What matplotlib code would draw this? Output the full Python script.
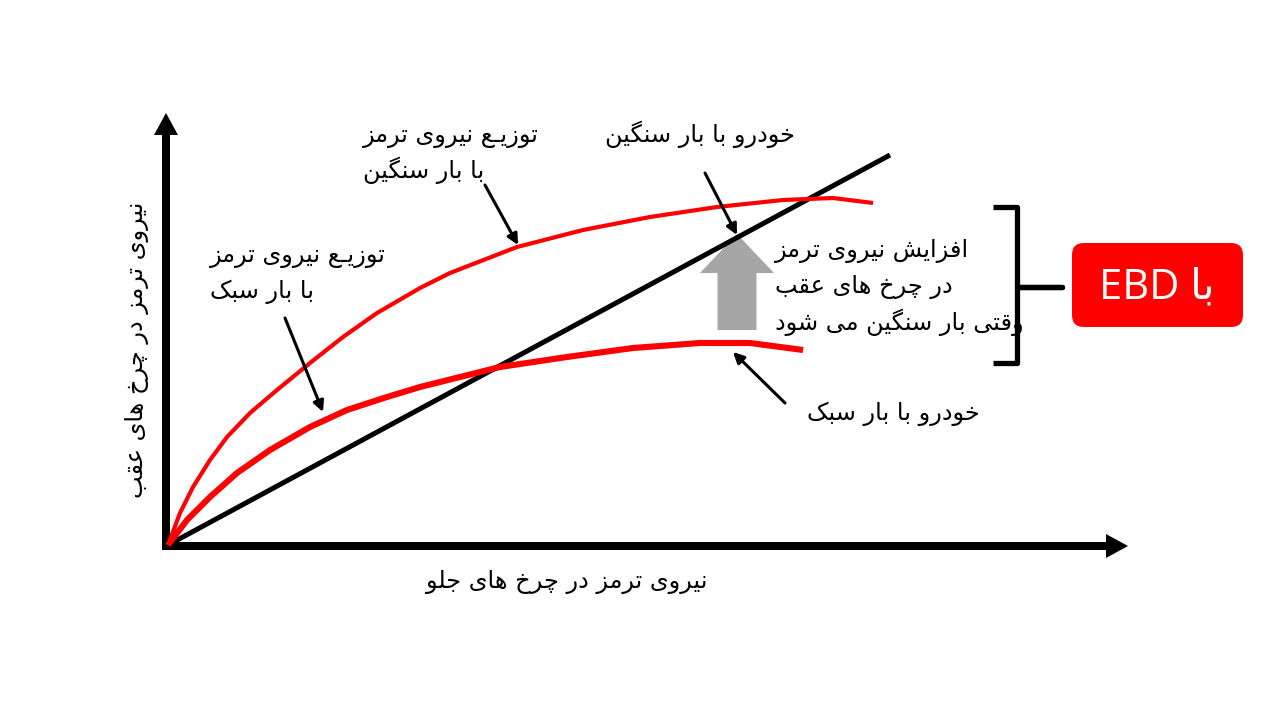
import matplotlib
matplotlib.use("Agg")
import matplotlib.pyplot as plt
from matplotlib.patches import FancyArrow, FancyBboxPatch
from matplotlib.path import Path
from matplotlib.patches import PathPatch

# ---------------- data (front brake force vs rear brake force, schematic units) -------------
ideal_heavy_front = [0, 12, 25, 42, 59, 82, 109, 142, 175, 209, 252, 282, 349, 415, 482, 549, 615, 665, 705]
ideal_heavy_rear = [0, 32, 58, 85, 108, 132, 155, 182, 208, 232, 257, 272, 298, 315, 328, 338, 345, 347, 342]

ideal_light_front = [0, 19, 42, 69, 102, 142, 179, 219, 252, 332, 399, 465, 532, 582, 635]
ideal_light_rear = [0, 25, 48, 72, 95, 118, 135, 148, 158, 178, 188, 197, 202, 202, 195]

actual_front = [0, 722]
actual_rear = [0, 390]

# ---------------- text ----------------
lbl_heavy_dist = ["توزیـع نیروی ترمز", "با بار سنگین"]
lbl_light_dist = ["توزیـع نیروی ترمز", "با بار سبک"]
lbl_heavy_car = "خودرو با بار سنگین"
lbl_light_car = "خودرو با بار سبک"
lbl_increase = ["افزایش نیروی ترمز", "در چرخ های عقب", "وقتی بار سنگین می شود"]
lbl_ebd_word = "با"
lbl_ebd_latin = "EBD"
x_label = "نیروی ترمز در چرخ های جلو"
y_label = "نیروی ترمز در چرخ های عقب"

# ---------------- minimal Persian shaping (presentation forms + RTL) ----------------
FORMS = {
    'ا': ('\uFE8D', '\uFE8E', None, None),
    'ب': ('\uFE8F', '\uFE90', '\uFE91', '\uFE92'),
    'ت': ('\uFE95', '\uFE96', '\uFE97', '\uFE98'),
    'ج': ('\uFE9D', '\uFE9E', '\uFE9F', '\uFEA0'),
    'خ': ('\uFEA5', '\uFEA6', '\uFEA7', '\uFEA8'),
    'د': ('\uFEA9', '\uFEAA', None, None),
    'ر': ('\uFEAD', '\uFEAE', None, None),
    'ز': ('\uFEAF', '\uFEB0', None, None),
    'س': ('\uFEB1', '\uFEB2', '\uFEB3', '\uFEB4'),
    'ش': ('\uFEB5', '\uFEB6', '\uFEB7', '\uFEB8'),
    'ع': ('\uFEC9', '\uFECA', '\uFECB', '\uFECC'),
    'ف': ('\uFED1', '\uFED2', '\uFED3', '\uFED4'),
    'ق': ('\uFED5', '\uFED6', '\uFED7', '\uFED8'),
    'ل': ('\uFEDD', '\uFEDE', '\uFEDF', '\uFEE0'),
    'م': ('\uFEE1', '\uFEE2', '\uFEE3', '\uFEE4'),
    'ن': ('\uFEE5', '\uFEE6', '\uFEE7', '\uFEE8'),
    'ه': ('\uFEE9', '\uFEEA', '\uFEEB', '\uFEEC'),
    'و': ('\uFEED', '\uFEEE', None, None),
    'ی': ('\uFEEF', '\uFEF0', '\uFEF3', '\uFEF4'),
    'ک': ('\uFB8E', '\uFB8F', '\uFB90', '\uFB91'),
    'گ': ('\uFB92', '\uFB93', '\uFB94', '\uFB95'),
    'چ': ('\uFB7A', '\uFB7B', '\uFB7C', '\uFB7D'),
    'ـ': ('\u0640', '\u0640', '\u0640', '\u0640'),
}


def dual(c):
    return c in FORMS and FORMS[c][2] is not None


def rtl(text):
    out = []
    n = len(text)
    for i, c in enumerate(text):
        if c not in FORMS:
            out.append(c)
            continue
        prev_c = text[i - 1] if i > 0 else ''
        next_c = text[i + 1] if i + 1 < n else ''
        jp = dual(prev_c)
        jn = dual(c) and next_c in FORMS
        iso, fin, ini, med = FORMS[c]
        if jp and jn:
            out.append(med)
        elif jp:
            out.append(fin)
        elif jn:
            out.append(ini)
        else:
            out.append(iso)
    return ''.join(out)[::-1]


FONT = ['DejaVu Sans']
FS = 17.3

# ---------------- figure ----------------
fig = plt.figure(figsize=(12.8, 7.2), dpi=100)
ax = fig.add_axes([0, 0, 1, 1])
ax.set_xlim(-168, 1280 - 168)
ax.set_ylim(-(720 - 545), 545)
ax.axis('off')

RED = '#ff0000'

# axes arrows
ax.add_patch(FancyArrow(-2, -4, 0, 436, width=8, head_width=24, head_length=22,
                        length_includes_head=True, color='black', lw=0))
ax.add_patch(FancyArrow(-6, -1, 966, 0, width=8, head_width=24, head_length=22,
                        length_includes_head=True, color='black', lw=0))

# curves
ax.plot(actual_front, actual_rear, color='black', lw=3.6, solid_capstyle='butt', zorder=3)
ax.plot(ideal_heavy_front, ideal_heavy_rear, color=RED, lw=3.0, zorder=4,
        solid_joinstyle='round', solid_capstyle='butt')
ax.plot(ideal_light_front, ideal_light_rear, color=RED, lw=4.4, zorder=4,
        solid_joinstyle='round', solid_capstyle='butt')

# grey arrow (increase)
ax.add_patch(FancyArrow(569, 215, 0, 96, width=39, head_width=74, head_length=39,
                        length_includes_head=True, color='#a6a6a6', lw=0, zorder=2))

# pointer arrows
def pointer(start, end):
    ax.annotate('', xy=end, xytext=start,
                arrowprops=dict(arrowstyle='-|>', lw=2.2, color='black',
                                mutation_scale=16, shrinkA=0, shrinkB=0), zorder=5)

pointer((317, 360), (350, 300))
pointer((117, 227), (155, 133))
pointer((537, 372), (569, 310))
pointer((617, 142), (565, 193))

# texts
def line(x, y, s, ha='left', **kw):
    ax.text(x, y, rtl(s), ha=ha, va='baseline', fontsize=FS, family=FONT, color='black', **kw)

line(195, 545 - 142, lbl_heavy_dist[0])
line(195, 545 - 178, lbl_heavy_dist[1])
line(42, 545 - 262, lbl_light_dist[0])
line(42, 545 - 298, lbl_light_dist[1])
line(437, 545 - 142, lbl_heavy_car)
line(639, 545 - 420, lbl_light_car)
line(607, 545 - 257, lbl_increase[0])
line(607, 545 - 293, lbl_increase[1])
line(607, 545 - 330, lbl_increase[2])

ax.text(567 - 168, 545 - 582, rtl(x_label), ha='center', va='center', fontsize=FS,
        family=FONT, color='black')
ax.text(137 - 168, 545 - 350, rtl(y_label), ha='center', va='center', fontsize=FS,
        family=FONT, color='black', rotation=90)

# bracket
bx0, bx1, bx2 = 993 - 168, 1017 - 168, 1062 - 168
by_top, by_mid, by_bot = 545 - 207, 545 - 287, 545 - 363
verts = [(bx0, by_top), (bx1, by_top), (bx1, by_mid), (bx2, by_mid),
         (bx1, by_mid), (bx1, by_bot), (bx0, by_bot)]
codes = [Path.MOVETO] + [Path.LINETO] * 6
ax.add_patch(PathPatch(Path(verts, codes), fill=False, lw=3.8, color='black',
                       joinstyle='round', capstyle='butt'))

# EBD box
ax.add_patch(FancyBboxPatch((1072 - 168, 545 - 327), 171, 84,
                            boxstyle='round,pad=0,rounding_size=12',
                            fc=RED, ec='none', zorder=5))
ax.text(1157 - 168, 545 - 287, lbl_ebd_latin + ' ' + rtl(lbl_ebd_word), ha='center', va='center',
        fontsize=30, family=['Open Sans', 'DejaVu Sans'], color='white', zorder=6)

fig.savefig('out.png', dpi=100, facecolor='white')
